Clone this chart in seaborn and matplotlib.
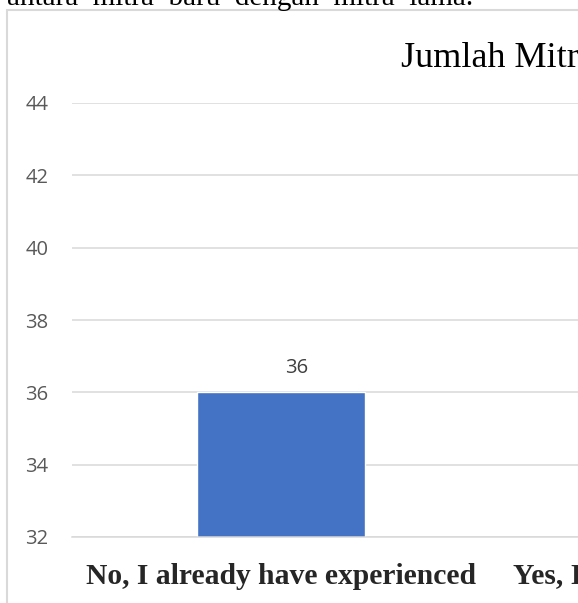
import matplotlib
matplotlib.use("Agg")
import matplotlib.pyplot as plt
import seaborn as sns
import pandas as pd
from matplotlib.patches import Rectangle

# data
categories = ["No, I already have experienced", "Yes, I have never experienced"]
values = [36, 42]
y_ticks = [32, 34, 36, 38, 40, 42, 44]
title = "Jumlah Mitra"
doc_text = "antara  mitra  baru  dengan  mitra  lama."

df = pd.DataFrame({"kategori": categories, "jumlah": values})

sns.set_style("white")
plt.rcParams["font.family"] = ["Open Sans", "DejaVu Sans"]

W, H = 578, 603
fig = plt.figure(figsize=(W / 100, H / 100), dpi=100)

# chart border (cropped screenshot of a Word chart)
fig.patches.append(Rectangle((7 / W, -0.1), 2.0, 1 - 10 / H + 0.1,
                             transform=fig.transFigure, fill=False,
                             edgecolor="#d9d9d9", linewidth=1.5))

# document text above the chart, mostly cut off
fig.text(7 / W, 1 - 5 / H, doc_text, family="Liberation Serif",
         fontsize=21, ha="left", va="baseline", color="black")

ax = fig.add_axes([72 / W, 1 - 537 / H, 836 / W, (537 - 103) / H])
sns.barplot(data=df, x="kategori", y="jumlah", color="#4472C4",
            width=0.4, saturation=1, ax=ax)

ax.set_ylim(32, 44)
ax.set_xlim(-0.5, 1.5)
ax.set_yticks(y_ticks)
ax.yaxis.grid(True, color="#d9d9d9", linewidth=1.1)
ax.set_axisbelow(True)
for s in ["top", "right", "left"]:
    ax.spines[s].set_visible(False)
ax.spines["bottom"].set_color("#d9d9d9")
ax.spines["bottom"].set_linewidth(1.1)
ax.tick_params(axis="y", length=0, pad=17, labelsize=14.5, labelcolor="#595959")
ax.tick_params(axis="x", length=0, pad=19)
for lbl in ax.get_xticklabels():
    lbl.set_family("Liberation Serif")
    lbl.set_fontweight("bold")
    lbl.set_fontsize(21.3)
ax.set_xlabel("")
ax.set_ylabel("")

# data labels (sit a little right of the bar centre in the original)
for i, v in enumerate(values):
    ax.annotate(f"{v}", (i, v), xytext=(11, 10), textcoords="offset points",
                ha="center", va="bottom", fontsize=14.5, color="#404040")

fig.text(401 / W, 1 - 67 / H, title, family="Liberation Serif", fontsize=26,
         ha="left", va="baseline", color="black")

fig.savefig("out.png", dpi=100)
